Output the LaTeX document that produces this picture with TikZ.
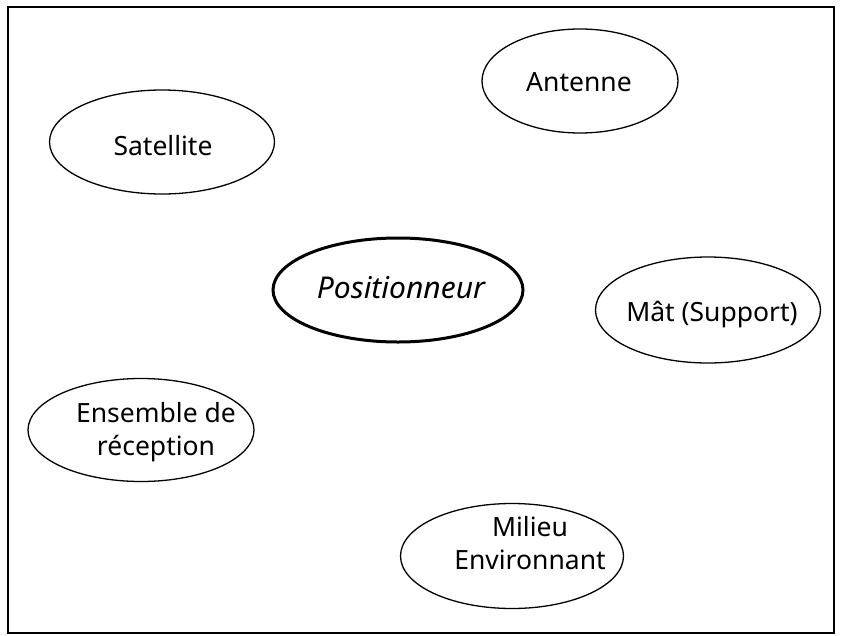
\documentclass[tikz,border=0pt]{standalone}
\usepackage{fontspec}
\setmainfont{Noto Sans}
\usetikzlibrary{shapes.geometric}
\begin{document}
\begin{tikzpicture}[x=1pt,y=-1pt,
  oval/.style={draw, ellipse, line width=1.3pt, inner sep=0pt},
  mainoval/.style={draw, ellipse, line width=3pt, inner sep=0pt},
  lbl/.style={inner sep=0pt, font=\fontsize{26.5}{32.5}\selectfont, align=center},
  mainlbl/.style={inner sep=0pt, font=\fontsize{30}{36}\selectfont\itshape}]
\useasboundingbox (0,0) rectangle (841,635);
\draw[line width=1.5pt] (8,7) rectangle (834,633);
% ellipses
\node[oval, minimum width=196pt, minimum height=104pt] (antenne) at (580,81) {};
\node[oval, minimum width=225pt, minimum height=104pt] (satellite) at (162,142) {};
\node[mainoval, minimum width=250pt, minimum height=104pt] (pos) at (398,290) {};
\node[oval, minimum width=225pt, minimum height=106pt] (mat) at (708,310) {};
\node[oval, minimum width=226pt, minimum height=103pt] (ens) at (141,430) {};
\node[oval, minimum width=223pt, minimum height=105pt] (mil) at (512,556) {};
% texts
\node[lbl, anchor=base] (antenne-t) at (579,91) {Antenne};
\node[lbl, anchor=base] (satellite-t) at (163,155) {Satellite};
\node[mainlbl, anchor=base] (pos-t) at (401,298) {Positionneur};
\node[lbl, anchor=base] (mat-t) at (712,321) {Mât (Support)};
\node[lbl] (ens-t) at (156,432) {Ensemble de\\réception};
\node[lbl] (mil-t) at (530,543) {Milieu\\Environnant};
\end{tikzpicture}
\end{document}
